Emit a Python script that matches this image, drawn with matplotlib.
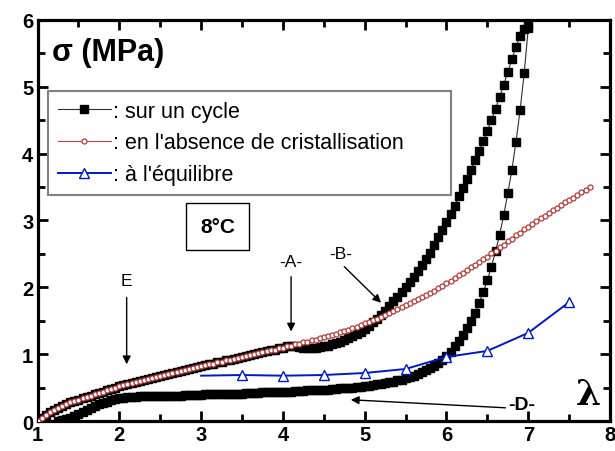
import numpy as np
import matplotlib
matplotlib.use('Agg')
import matplotlib.pyplot as plt
from matplotlib.ticker import MultipleLocator

plt.rcParams['font.family'] = ['Liberation Sans', 'DejaVu Sans']

# cycle: loading (lambda 1 -> 7, step 0.05) then unloading (7 -> 1.25)
lam_load = np.round(np.arange(1.0, 7.001, 0.05), 2)
sig_load = [0.00, 0.05, 0.09, 0.13, 0.17, 0.20, 0.23, 0.26, 0.28, 0.30,
            0.32, 0.34, 0.36, 0.38, 0.40, 0.42, 0.44, 0.46, 0.48, 0.50,
            0.52, 0.54, 0.55, 0.57, 0.58, 0.60, 0.61, 0.63, 0.64, 0.66,
            0.67, 0.69, 0.70, 0.72, 0.73, 0.75, 0.76, 0.78, 0.79, 0.81,
            0.82, 0.84, 0.85, 0.86, 0.88, 0.89, 0.91, 0.92, 0.93, 0.95,
            0.96, 0.98, 0.99, 1.00, 1.02, 1.03, 1.05, 1.06, 1.07, 1.09,
            1.10, 1.12, 1.12, 1.12, 1.11, 1.10, 1.10, 1.10, 1.10, 1.11,
            1.12, 1.13, 1.15, 1.17, 1.19, 1.22, 1.25, 1.28, 1.31, 1.34,
            1.38, 1.43, 1.48, 1.53, 1.59, 1.65, 1.72, 1.79, 1.86, 1.93,
            2.00, 2.08, 2.16, 2.24, 2.33, 2.42, 2.52, 2.63, 2.75, 2.86,
            2.97, 3.10, 3.22, 3.36, 3.49, 3.62, 3.76, 3.90, 4.04, 4.19,
            4.34, 4.50, 4.67, 4.85, 5.03, 5.22, 5.41, 5.60, 5.76, 5.86,
            5.92]

lam_unload = np.round(np.arange(7.0, 1.249, -0.05), 2)
sig_unload = [5.88, 5.20, 4.65, 4.18, 3.76, 3.41, 3.08, 2.79, 2.54, 2.31,
              2.11, 1.93, 1.77, 1.62, 1.50, 1.39, 1.29, 1.20, 1.12, 1.04,
              0.97, 0.92, 0.87, 0.83, 0.79, 0.76, 0.73, 0.70, 0.68, 0.66,
              0.64, 0.62, 0.61, 0.59, 0.58, 0.57, 0.56, 0.55, 0.54, 0.53,
              0.52, 0.51, 0.51, 0.50, 0.50, 0.49, 0.49, 0.48, 0.48, 0.47,
              0.47, 0.47, 0.46, 0.46, 0.46, 0.45, 0.45, 0.45, 0.44, 0.44,
              0.44, 0.44, 0.43, 0.43, 0.43, 0.43, 0.42, 0.42, 0.42, 0.42,
              0.41, 0.41, 0.41, 0.41, 0.41, 0.40, 0.40, 0.40, 0.40, 0.40,
              0.39, 0.39, 0.39, 0.39, 0.39, 0.38, 0.38, 0.38, 0.38, 0.38,
              0.38, 0.37, 0.37, 0.37, 0.37, 0.37, 0.36, 0.36, 0.36, 0.35,
              0.35, 0.33, 0.31, 0.29, 0.27, 0.25, 0.22, 0.19, 0.16, 0.13,
              0.10, 0.07, 0.05, 0.03, 0.01, 0.00]

# amorphous (no crystallisation) curve
lam_am = np.round(np.arange(1.0, 7.751, 0.05), 2)
sig_am = [0.00, 0.05, 0.09, 0.13, 0.17, 0.20, 0.23, 0.26, 0.28, 0.30,
          0.32, 0.34, 0.36, 0.38, 0.40, 0.42, 0.44, 0.46, 0.48, 0.50,
          0.52, 0.54, 0.55, 0.57, 0.58, 0.60, 0.61, 0.63, 0.64, 0.66,
          0.67, 0.69, 0.70, 0.72, 0.73, 0.75, 0.76, 0.78, 0.79, 0.81,
          0.82, 0.84, 0.85, 0.86, 0.88, 0.89, 0.91, 0.92, 0.93, 0.95,
          0.96, 0.98, 0.99, 1.00, 1.02, 1.03, 1.05, 1.06, 1.07, 1.09,
          1.10, 1.12, 1.13, 1.15, 1.16, 1.18, 1.19, 1.21, 1.22, 1.24,
          1.26, 1.28, 1.29, 1.31, 1.33, 1.35, 1.37, 1.39, 1.41, 1.44,
          1.46, 1.48, 1.51, 1.53, 1.56, 1.58, 1.61, 1.64, 1.67, 1.70,
          1.73, 1.76, 1.79, 1.82, 1.85, 1.88, 1.92, 1.95, 1.99, 2.02,
          2.06, 2.10, 2.14, 2.18, 2.22, 2.26, 2.30, 2.34, 2.38, 2.42,
          2.46, 2.51, 2.55, 2.60, 2.64, 2.69, 2.73, 2.78, 2.82, 2.87,
          2.91, 2.95, 2.99, 3.03, 3.07, 3.11, 3.15, 3.19, 3.23, 3.27,
          3.30, 3.34, 3.38, 3.42, 3.46, 3.50]

# equilibrium
lam_eq = [3.0, 3.5, 4.0, 4.5, 5.0, 5.5, 6.0, 6.5, 7.0, 7.5]
sig_eq = [0.68, 0.69, 0.68, 0.69, 0.72, 0.78, 0.96, 1.05, 1.32, 1.78]

labels = [': sur un cycle', ": en l'absence de cristallisation", ": à l'équilibre"]

cyc_x = list(lam_load) + list(lam_unload)
cyc_y = sig_load + sig_unload

fig = plt.figure(figsize=(6.15, 4.52), dpi=100)
ax = fig.add_axes([0.061, 0.066, 0.931, 0.888])

ax.plot(cyc_x, cyc_y, color='#303030', lw=0.8, marker='s', ms=6.2,
        mfc='black', mec='black', label=labels[0], zorder=2)
ax.plot(lam_am, sig_am, color='#c04040', lw=0.8, marker='o', ms=3.6,
        mfc='white', mec='#b83a3a', mew=0.9, label=labels[1], zorder=3)
ax.plot(lam_eq, sig_eq, color='#0018c8', lw=1.4, marker='^', ms=7,
        mfc='white', mec='#0018c8', mew=1.0, markevery=list(range(1, len(lam_eq))),
        label=labels[2], zorder=4)

ax.set_xlim(1, 8)
ax.set_ylim(0, 6)
ax.xaxis.set_major_locator(MultipleLocator(1))
ax.xaxis.set_minor_locator(MultipleLocator(0.5))
ax.yaxis.set_major_locator(MultipleLocator(1))
ax.yaxis.set_minor_locator(MultipleLocator(0.5))
ax.tick_params(which='both', direction='in', top=True, right=True, width=2)
ax.tick_params(which='major', length=7, labelsize=14.5, pad=3)
ax.tick_params(which='minor', length=5)
for lab in ax.get_xticklabels() + ax.get_yticklabels():
    lab.set_fontweight('bold')
for sp in ax.spines.values():
    sp.set_linewidth(2.3)

leg = ax.legend(loc='upper left', bbox_to_anchor=(0.018, 0.823, 0.705, 0.0),
                mode='expand', fontsize=15.5, handlelength=2.5, handletextpad=0.1,
                labelspacing=0.5, borderaxespad=0, numpoints=1, fancybox=False,
                framealpha=1, borderpad=0.45)
leg.get_frame().set_edgecolor('#808080')
leg.get_frame().set_linewidth(1.5)

ax.text(1.18, 5.52, 'σ (MPa)', fontsize=22, fontweight='bold', va='center', ha='left')
ax.text(7.74, 0.40, 'λ', fontsize=26, fontweight='bold', va='center', ha='center',
        family=['DejaVu Serif'])
ax.text(3.2, 2.91, '8°C', fontsize=15, fontweight='bold', ha='center', va='center',
        bbox=dict(boxstyle='square,pad=0.65', fc='white', ec='black', lw=1))

arr = dict(arrowstyle='-|>', color='black', lw=1, mutation_scale=12, shrinkA=0, shrinkB=0)
ax.text(2.09, 2.11, 'E', fontsize=12.5, ha='center', va='center')
ax.annotate('', xy=(2.09, 0.85), xytext=(2.09, 1.85), arrowprops=arr)
ax.text(4.10, 2.38, '-A-', fontsize=12.5, ha='center', va='center')
ax.annotate('', xy=(4.10, 1.34), xytext=(4.10, 2.16), arrowprops=arr)
ax.text(4.71, 2.51, '-B-', fontsize=12.5, ha='center', va='center')
ax.annotate('', xy=(5.20, 1.77), xytext=(4.75, 2.31), arrowprops=arr)
ax.text(6.92, 0.25, '-D-', fontsize=14, fontweight='bold', ha='center', va='center')
ax.annotate('', xy=(4.83, 0.32), xytext=(6.72, 0.20), arrowprops=arr)

fig.savefig('out.png', dpi=100)
